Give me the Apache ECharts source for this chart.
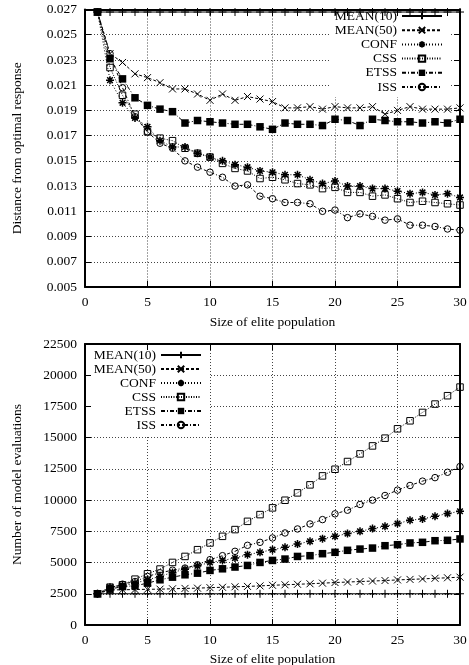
<!DOCTYPE html>
<html><head><meta charset="utf-8">
<script src="https://cdn.jsdelivr.net/npm/echarts/dist/echarts.min.js"></script>
<style>html,body{margin:0;padding:0;background:#fff}#c{width:469px;height:665px}</style>
</head><body><div id="c"></div><script>
// ---------- data ----------
const sizes = [1,2,3,4,5,6,7,8,9,10,11,12,13,14,15,16,17,18,19,20,21,22,23,24,25,26,27,28,29,30];
const seriesNames = ['MEAN(10)','MEAN(50)','CONF','CSS','ETSS','ISS'];
const xTicks = [0,5,10,15,20,25,30];

// top chart: distance from optimal response
const distMean10 = [0.0268,0.0268,0.0268,0.0268,0.0268,0.0268,0.0268,0.0268,0.0268,0.0268,0.0268,0.0268,0.0268,0.0268,0.0268,0.0268,0.0268,0.0268,0.0268,0.0268,0.0268,0.0268,0.0268,0.0268,0.0268,0.0268,0.0268,0.0268,0.0268,0.0268];
const distMean50 = [0.0268,0.0235,0.0228,0.0219,0.0216,0.0212,0.0207,0.0207,0.0203,0.0198,0.0203,0.0198,0.0201,0.0199,0.0197,0.0192,0.0192,0.0193,0.0191,0.0193,0.0192,0.0192,0.0193,0.0187,0.0190,0.0193,0.0191,0.0191,0.0191,0.0192];
const distConf   = [0.0268,0.0214,0.0196,0.0184,0.0177,0.0166,0.0161,0.0161,0.0156,0.0153,0.0150,0.0147,0.0145,0.0142,0.0141,0.0139,0.0139,0.0135,0.0132,0.0134,0.0130,0.0130,0.0128,0.0128,0.0126,0.0124,0.0125,0.0123,0.0124,0.0121];
const distCss    = [0.0268,0.0224,0.0202,0.0187,0.0173,0.0168,0.0166,0.0160,0.0156,0.0153,0.0148,0.0144,0.0142,0.0136,0.0137,0.0135,0.0132,0.0131,0.0128,0.0129,0.0125,0.0125,0.0122,0.0123,0.0120,0.0117,0.0118,0.0117,0.0116,0.0115];
const distEtss   = [0.0268,0.0231,0.0215,0.0200,0.0194,0.0191,0.0189,0.0180,0.0182,0.0181,0.0180,0.0179,0.0179,0.0177,0.0175,0.0180,0.0179,0.0179,0.0178,0.0183,0.0182,0.0178,0.0183,0.0182,0.0181,0.0181,0.0180,0.0181,0.0180,0.0183];
const distIss    = [0.0268,0.0235,0.0208,0.0185,0.0173,0.0164,0.0160,0.0150,0.0145,0.0141,0.0137,0.0130,0.0131,0.0122,0.0120,0.0117,0.0117,0.0116,0.0110,0.0111,0.0105,0.0108,0.0106,0.0103,0.0104,0.0099,0.0099,0.0098,0.0096,0.0095];
const distTicks = [0.005,0.007,0.009,0.011,0.013,0.015,0.017,0.019,0.021,0.023,0.025,0.027];

// bottom chart: number of model evaluations
const evalMean10 = [2500,2500,2500,2500,2500,2500,2500,2500,2500,2500,2500,2500,2500,2500,2500,2500,2500,2500,2500,2500,2500,2500,2500,2500,2500,2500,2500,2500,2500,2500];
const evalMean50 = [2500,2810,2820,2840,2860,2870,2900,2930,2950,2990,3020,3060,3090,3130,3180,3220,3260,3300,3350,3400,3440,3480,3520,3560,3610,3650,3690,3740,3780,3830];
const evalConf   = [2500,3030,3140,3350,3620,3890,4210,4470,4740,5010,5170,5360,5630,5820,6030,6220,6480,6700,6910,7100,7320,7500,7720,7900,8120,8390,8490,8710,8920,9110];
const evalCss    = [2500,3030,3220,3670,4100,4480,5010,5490,6030,6570,7100,7640,8300,8840,9380,9990,10580,11220,11940,12470,13090,13700,14340,14960,15710,16350,17020,17690,18360,19050];
const evalEtss   = [2500,2870,3080,3140,3350,3620,3830,4020,4150,4370,4500,4640,4770,5010,5170,5280,5490,5550,5710,5820,5980,6080,6160,6350,6430,6570,6620,6750,6780,6890];
const evalIss    = [2500,2950,3270,3480,3890,4180,4390,4560,4820,5230,5550,5900,6380,6620,6970,7370,7690,8090,8440,8900,9190,9650,10000,10370,10800,11170,11520,11800,12230,12690];
const evalTicks = [0,2500,5000,7500,10000,12500,15000,17500,20000,22500];

// ---------- styles ----------
const FONT = 'Liberation Serif';
const FS = 13.5;
const PLUS = 'path://M0 5L10 5M5 0L5 10';
const CROSS = 'path://M1 1L9 9M9 1L1 9';
const STAR = 'path://M0 5L10 5M5 0L5 10M1.5 1.5L8.5 8.5M8.5 1.5L1.5 8.5';
const look = {
  'MEAN(10)': {symbol: PLUS,  size: 8, fill: '#000', bw: 1,   dash: 'solid'},
  'MEAN(50)': {symbol: CROSS, size: 7, fill: '#000', bw: 1,   dash: [3,2]},
  'CONF':     {symbol: STAR,  size: 8, fill: '#000', bw: 1.5, dash: [1,2]},
  'CSS':      {symbol: 'rect', size: 6.5, fill: 'rgba(255,255,255,0)', bw: 1, dash: [1,1.5]},
  'ETSS':     {symbol: 'rect', size: 7.5, fill: '#000', bw: 0, dash: [4,2,1,2]},
  'ISS':      {symbol: 'circle', size: 6.5, fill: 'rgba(255,255,255,0)', bw: 1, dash: [3,2,1,2]}
};
function mk(name, vals, axis) {
  const s = look[name];
  return {
    name, type: 'line', xAxisIndex: axis, yAxisIndex: axis, z: 2,
    data: sizes.map((x, i) => [x, vals[i]]),
    symbol: s.symbol, symbolSize: s.size, showSymbol: true,
    lineStyle: {color: '#000', width: 1, type: s.dash},
    itemStyle: {color: s.fill, borderColor: '#000', borderWidth: s.bw},
    emphasis: {disabled: true}
  };
}
const labelStyle = {fontFamily: FONT, fontSize: FS, color: '#000'};
const frameLine = {show: true, onZero: false, lineStyle: {color: '#000', width: 2}};
const tickIn = {show: true, inside: true, length: 6, lineStyle: {color: '#000', width: 1}};
const gridLine = {show: true, lineStyle: {color: '#444', width: 1, type: [1,2]}};

function xAxes(gi) {
  return [
    {type: 'value', gridIndex: gi, position: 'bottom', min: xTicks[0], max: xTicks[xTicks.length - 1], interval: 5, z: 0,
     axisLine: frameLine, axisTick: tickIn, splitLine: gridLine,
     axisLabel: Object.assign({margin: 8}, labelStyle),
     name: 'Size of elite population', nameLocation: 'middle', nameGap: gi === 0 ? 28 : 27,
     nameMoveOverlap: false, nameTextStyle: labelStyle},
    {type: 'value', gridIndex: gi, position: 'top', min: xTicks[0], max: xTicks[xTicks.length - 1], interval: 5, z: 3,
     axisLine: frameLine, axisTick: tickIn, splitLine: {show: false}, axisLabel: {show: false}}
  ];
}
function yAxes(gi, min, max, interval, fmt, name) {
  return [
    {type: 'value', gridIndex: gi, position: 'left', min, max, interval, z: 3,
     axisLine: frameLine, axisTick: tickIn, splitLine: {show: false},
     axisLabel: Object.assign({margin: 8, formatter: fmt}, labelStyle),
     name, nameLocation: 'middle', nameGap: 61, nameMoveOverlap: false, nameTextStyle: labelStyle},
    {type: 'value', gridIndex: gi, position: 'right', min, max, interval, z: 0,
     axisLine: frameLine, axisTick: tickIn, splitLine: gridLine, axisLabel: {show: false}}
  ];
}

const chart = echarts.init(document.getElementById('c'), null, {renderer: 'canvas'});
chart.setOption({
  animation: false,
  backgroundColor: '#fff',
  grid: [
    {left: 85, top: 9.5, width: 375, height: 277.5, outerBoundsMode: 'none', containLabel: false},
    {left: 85, top: 344, width: 375, height: 281, outerBoundsMode: 'none', containLabel: false}
  ],
  xAxis: [...xAxes(0), ...xAxes(1)],
  yAxis: [
    ...yAxes(0, distTicks[0], distTicks[distTicks.length - 1], 0.002, v => v.toFixed(3), 'Distance from optimal response'),
    ...yAxes(1, evalTicks[0], evalTicks[evalTicks.length - 1], 2500, v => String(Math.round(v)), 'Number of model evaluations')
  ],
  legend: [
    {data: seriesNames, orient: 'vertical', align: 'right', right: 20, top: 6, z: 1,
     padding: [3, 6, 3, 4], backgroundColor: '#fff', itemWidth: 40, itemHeight: 8, itemGap: 0.2,
     selectedMode: false, textStyle: Object.assign({lineHeight: 14}, labelStyle)},
    {data: seriesNames, orient: 'vertical', align: 'right', right: 259, top: 344, z: 1,
     padding: [4, 8, 4, 12], backgroundColor: '#fff', itemWidth: 40, itemHeight: 8, itemGap: 0,
     selectedMode: false, textStyle: Object.assign({lineHeight: 13.6}, labelStyle)}
  ],
  series: [
    mk('MEAN(10)', distMean10, 0), mk('MEAN(50)', distMean50, 0), mk('CONF', distConf, 0),
    mk('CSS', distCss, 0), mk('ETSS', distEtss, 0), mk('ISS', distIss, 0),
    mk('MEAN(10)', evalMean10, 2), mk('MEAN(50)', evalMean50, 2), mk('CONF', evalConf, 2),
    mk('CSS', evalCss, 2), mk('ETSS', evalEtss, 2), mk('ISS', evalIss, 2)
  ]
});
</script></body></html>
